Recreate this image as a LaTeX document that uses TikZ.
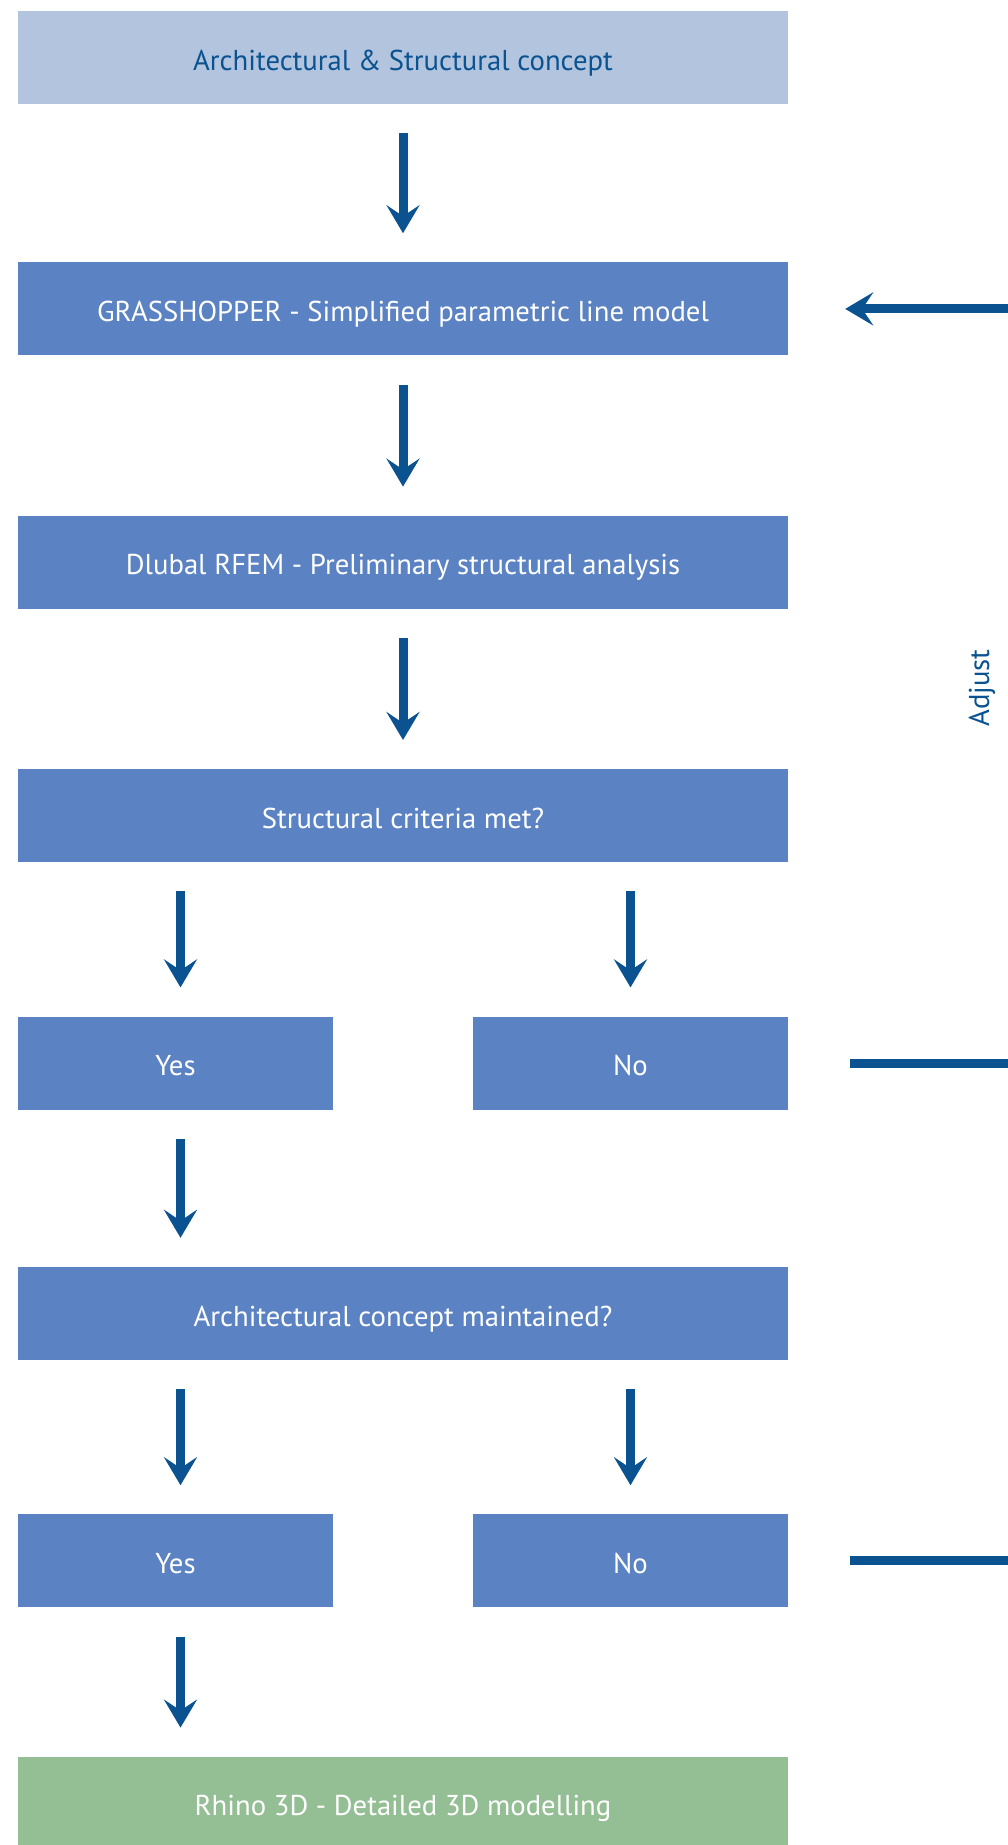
\documentclass[tikz,border=0pt]{standalone}
\usepackage{fontspec}
\setmainfont{PT Sans}
\usetikzlibrary{positioning,arrows.meta}
\definecolor{topblue}{HTML}{B2C4DE}
\definecolor{midblue}{HTML}{5B82C2}
\definecolor{darkblue}{HTML}{0A5290}
\definecolor{rhinogreen}{HTML}{94BE94}
\begin{document}
\begin{tikzpicture}[x=1pt,y=1pt,node distance=157pt,every node/.style={font=\fontsize{28.7}{33}\selectfont},
box/.style={fill=midblue,text=white,align=center,minimum width=770pt,minimum height=93pt,inner sep=0pt,text height=25pt,text depth=0pt},
half/.style={box,minimum width=315pt},
arr/.style={darkblue,line width=9pt,-{Stealth[length=28pt,width=33pt,inset=11pt]}},
back/.style={darkblue,line width=9pt}]
\useasboundingbox (0,0) rectangle (1008,-1845);
\node[box,fill=topblue,text=darkblue] (concept) at (403,-57.5) {Architectural \& Structural concept};
\node[box,below=158pt of concept] (gh) {GRASSHOPPER - Simplified parametric line model};
\node[box,below=160pt of gh] (rfem) {Dlubal RFEM - Preliminary structural analysis};
\node[box,below=160pt of rfem] (crit) {Structural criteria met?};
\node[half,below=154pt of crit.south west,anchor=north west] (yes1) {Yes};
\node[half,below=154pt of crit.south east,anchor=north east] (no1) {No};
\node[box,below=157pt of crit|-yes1.south] (arch) {Architectural concept maintained?};
\node[half,below=154pt of arch.south west,anchor=north west] (yes2) {Yes};
\node[half,below=154pt of arch.south east,anchor=north east] (no2) {No};
\node[box,fill=rhinogreen,below=149pt of arch|-yes2.south] (rhino) {Rhino 3D - Detailed 3D modelling};
\draw[arr,shorten <=29pt,shorten >=29pt] (concept) -- (gh);
\draw[arr,shorten <=29pt,shorten >=29pt] (gh) -- (rfem);
\draw[arr,shorten <=29pt,shorten >=29pt] (rfem) -- (crit);
\draw[arr,shorten <=29pt,shorten >=29pt] ([xshift=5pt]crit.south-|yes1) -- ([xshift=5pt]yes1.north);
\draw[arr,shorten <=29pt,shorten >=29pt] (crit.south-|no1) -- (no1);
\draw[arr,shorten <=29pt,shorten >=29pt] ([xshift=5pt]yes1.south) -- ([xshift=5pt]yes1|-arch.north);
\draw[arr,shorten <=29pt,shorten >=29pt] ([xshift=5pt]arch.south-|yes2) -- ([xshift=5pt]yes2.north);
\draw[arr,shorten <=29pt,shorten >=29pt] (arch.south-|no2) -- (no2);
\draw[arr,shorten <=29pt,shorten >=29pt] ([xshift=5pt]yes2.south) -- ([xshift=5pt]yes2|-rhino.north);
% loop back on the right
\coordinate (e0) at (1008,0|-gh.east);
\coordinate (e1) at (1008,0|-no1.east);
\coordinate (e2) at (1008,0|-no2.east);
\draw[back] ([xshift=62pt]no1.east) -- (e1);
\draw[back] ([xshift=62pt]no2.east) -- (e2);
\draw[arr] (e0) -- ([xshift=57pt]gh.east);
\node[text=darkblue,rotate=90] (adjust) at (982,-688) {Adjust};
\end{tikzpicture}
\end{document}
